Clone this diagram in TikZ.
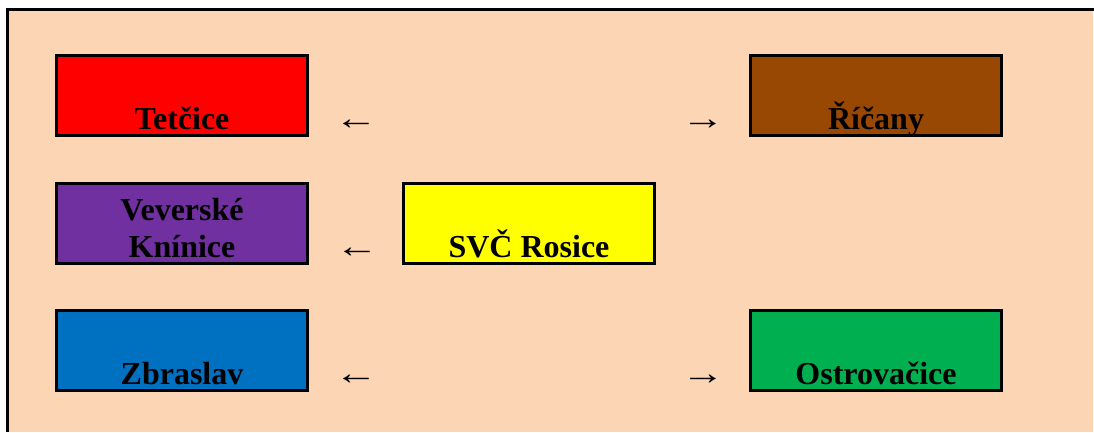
\documentclass[tikz,border=0pt]{standalone}
\usepackage{fontspec}
\setmainfont{Liberation Serif}
\usepackage{tikz}
\usetikzlibrary{positioning}
\definecolor{sheetbg}{RGB}{252, 213, 180}
\definecolor{clubred}{RGB}{255, 0, 0}
\definecolor{clubbrown}{RGB}{153, 72, 4}
\definecolor{clubpurple}{RGB}{112, 48, 160}
\definecolor{clubyellow}{RGB}{255, 255, 0}
\definecolor{clubblue}{RGB}{0, 112, 192}
\definecolor{clubgreen}{RGB}{0, 176, 80}
\newcommand{\wideleft}{\scalebox{1.3}[1]{←}}
\newcommand{\wideright}{\scalebox{1.3}[1]{→}}

\begin{document}
\begin{tikzpicture}[
    x=0.75pt, y=-0.75pt,
    place/.style={
        rectangle, draw=black, fill=#1, line width=2.25pt,
        minimum width=188.25pt, minimum height=60pt, inner sep=0pt
    },
    plabel/.style={
        font=\fontsize{24}{27.75}\selectfont\bfseries, align=center,
        anchor=base, inner sep=0pt
    },
    dirarrow/.style={font=\fontsize{25}{27.75}\selectfont, anchor=base, inner sep=0pt}
]

\useasboundingbox (0,0) rectangle (1094,432);

% Sheet background and frame
\fill[sheetbg] (7.5,9.5) rectangle (1093,432);
\draw[line width=2.25pt] (7.5,432) -- (7.5,9.5) -- (1094,9.5);

% Places
\node[place=clubred] (tetcice) at (182, 95.5) {};
\node[place=clubbrown] (ricany) at (876, 95.5) {};
\node[place=clubpurple] (veverske) at (182, 223.5) {};
\node[place=clubyellow] (rosice) at (529, 223.5) {};
\node[place=clubblue] (zbraslav) at (182, 350.5) {};
\node[place=clubgreen] (ostrovacice) at (876, 350.5) {};

% Place names
\node[plabel] (tetcicetxt) at (182, 129) {Tetčice};
\node[plabel] (ricanytxt) at (876, 129) {Říčany};
\node[plabel] (veversketxt) at (182, 220) {Veverské};
\node[plabel] (kninicetxt) at (182, 257) {Knínice};
\node[plabel] (rosicetxt) at (529, 257) {SVČ Rosice};
\node[plabel] (zbraslavtxt) at (182, 384) {Zbraslav};
\node[plabel] (ostrovacicetxt) at (876, 384) {Ostrovačice};

% Direction arrows
\node[dirarrow] (arrtet) at (356, 129) {\wideleft};
\node[dirarrow] (arrric) at (703, 129) {\wideright};
\node[dirarrow] (arrvev) at (357, 257) {\wideleft};
\node[dirarrow] (arrzbr) at (356, 384) {\wideleft};
\node[dirarrow] (arrost) at (703, 384) {\wideright};

\end{tikzpicture}
\end{document}
